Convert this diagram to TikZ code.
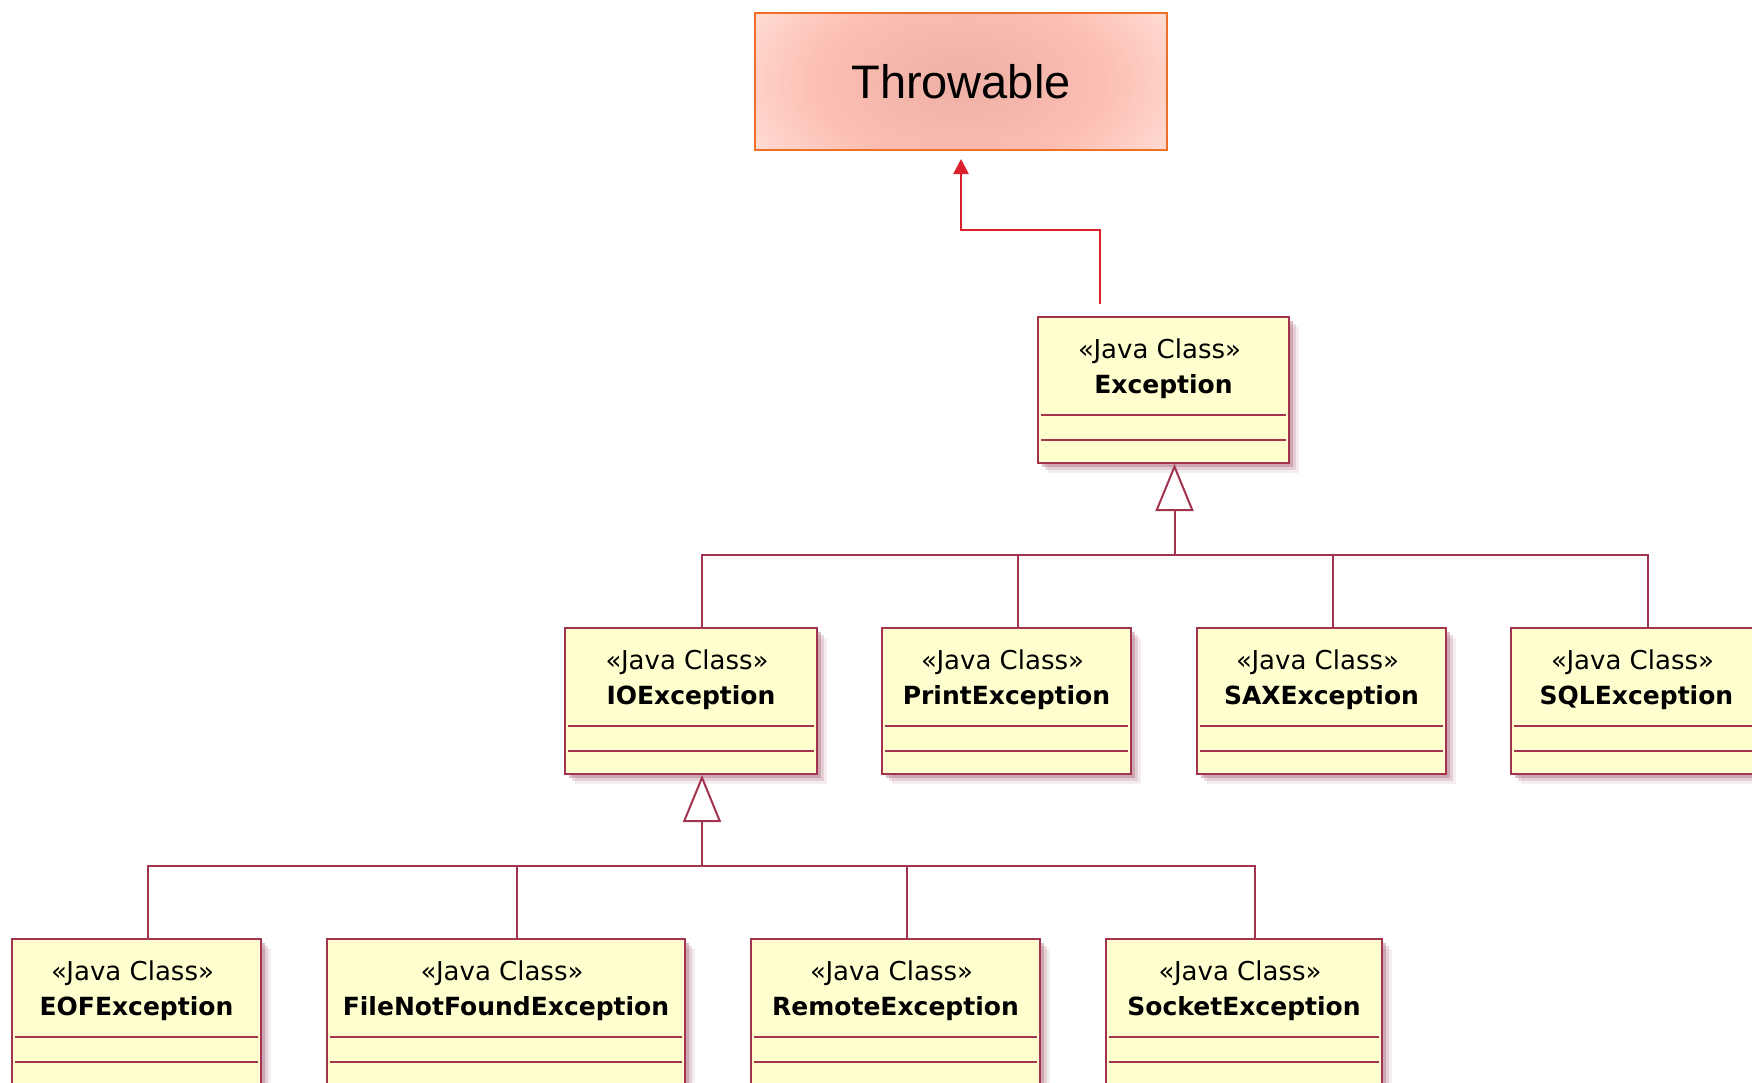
\documentclass[tikz,border=0pt]{standalone}
\usepackage{fontspec}
\usepackage{tikz}
\usetikzlibrary{arrows.meta,shadows,calc}
\newfontfamily\umlfont{DejaVu Sans}
\newfontfamily\throwfont{Liberation Sans}
\definecolor{umlred}{RGB}{163,52,80}
\definecolor{umlfill}{RGB}{254,254,206}
\definecolor{umlshadow}{RGB}{180,118,134}
\definecolor{throworange}{RGB}{238,112,40}
\definecolor{throwin}{RGB}{238,176,165}
\definecolor{throwmid}{RGB}{252,190,178}
\definecolor{throwout}{RGB}{255,220,212}
\definecolor{arrowred}{RGB}{218,32,44}
\pgfdeclareradialshading{throwshade}{\pgfpoint{0bp}{0bp}}{color(0bp)=(throwin); color(15bp)=(throwmid); color(25bp)=(throwout); color(50bp)=(throwout)}

\tikzset{
  jclass/.style={draw=umlred, fill=umlfill, line width=2pt, minimum height=146pt, inner sep=0pt,
    drop shadow={shadow xshift=10pt, shadow yshift=-10pt, fill=umlshadow, opacity=0.12},
    drop shadow={shadow xshift=7pt, shadow yshift=-7pt, fill=umlshadow, opacity=0.25},
    drop shadow={shadow xshift=4pt, shadow yshift=-4pt, fill=umlshadow, opacity=0.45}},
  stereo/.style={anchor=base, inner sep=0pt, font=\umlfont\fontsize{26}{30}\selectfont},
  cname/.style={anchor=base, inner sep=0pt, font=\umlfont\bfseries\fontsize{25}{30}\selectfont},
  sepline/.style={draw=umlred, line width=2pt},
  umlline/.style={draw=umlred, line width=2pt},
  inherit/.style={umlline, -{Triangle[open, fill=white, width=38pt, length=47pt]}},
  throwbox/.style={draw=throworange, line width=2pt, minimum width=412pt, minimum height=137pt,
    font=\throwfont\fontsize{47}{56}\selectfont},
  redarrow/.style={draw=arrowred, line width=2.5pt, -{Triangle[width=15pt, length=15pt]}}
}

\newcommand{\javaclass}[5]{%
  \node[jclass, minimum width=#4pt] (#1) at ({#2+#4/2},{#3+73}) {};
  \node[stereo] at ([xshift=-4pt,yshift=-42pt]#1.north) {«Java Class»};
  \node[cname] at ([yshift=-77pt]#1.north) {#5};
  \draw[sepline] ([xshift=4pt,yshift=-99pt]#1.north west) -- ([xshift=-4pt,yshift=-99pt]#1.north east);
  \draw[sepline] ([xshift=4pt,yshift=-124pt]#1.north west) -- ([xshift=-4pt,yshift=-124pt]#1.north east);
}

\begin{document}
\begin{tikzpicture}[x=1pt, y=-1pt]
	\clip (0,0) rectangle (1752,1082);
	\fill[white] (0,0) rectangle (1752,1082);

	\begin{scope}
		\clip (755,13) rectangle (1167,150);
		\fill[throwout] (755,13) rectangle (1167,150);
		\shade[shading=throwshade] (961,81.5) ellipse [x radius=240, y radius=140];
	\end{scope}
	\node[throwbox] (throwable) at (961,81.5) {Throwable};

	\javaclass{exc}{1038}{317}{251}{Exception}
	\javaclass{io}{565}{628}{252}{IOException}
	\javaclass{print}{882}{628}{249}{PrintException}
	\javaclass{sax}{1197}{628}{249}{SAXException}
	\javaclass{sql}{1511}{628}{251}{SQLException}
	\javaclass{eof}{12}{939}{249}{EOFException}
	\javaclass{fnf}{327}{939}{358}{FileNotFoundException}
	\javaclass{remote}{751}{939}{289}{RemoteException}
	\javaclass{socket}{1106}{939}{276}{SocketException}

	\coordinate (redstart) at ([xshift=63pt,yshift=12pt]exc.north west);
	\draw[redarrow] (redstart) -- ++(0,-74) -| ([yshift=-8pt]throwable.south);

	\coordinate (excbus) at ([xshift=11pt]exc.south |- 0,555);
	\coordinate (iobus) at ([xshift=11pt]io.south |- 0,866);

	\draw[umlline] ([xshift=11pt]io.north) |- (excbus);
	\draw[umlline] ([xshift=11pt]print.north) |- (excbus);
	\draw[umlline] ([xshift=11pt]sax.north) |- (excbus);
	\draw[umlline] ([xshift=11pt]sql.north) |- (excbus);
	\draw[inherit] (excbus) -- ([xshift=11pt]exc.south);

	\draw[umlline] ([xshift=11pt]eof.north) |- (iobus);
	\draw[umlline] ([xshift=11pt]fnf.north) |- (iobus);
	\draw[umlline] ([xshift=11pt]remote.north) |- (iobus);
	\draw[umlline] ([xshift=11pt]socket.north) |- (iobus);
	\draw[inherit] (iobus) -- ([xshift=11pt]io.south);
\end{tikzpicture}
\end{document}
